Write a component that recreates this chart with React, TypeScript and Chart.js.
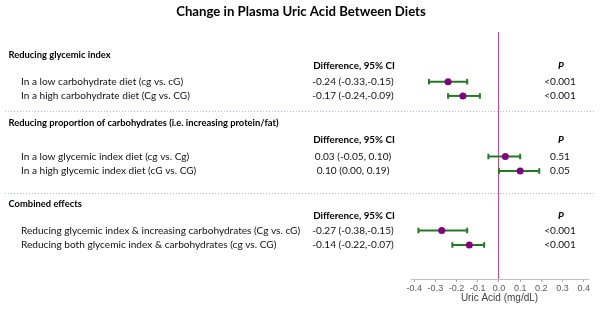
import React, { useEffect, useRef } from "react";
import { Chart, registerables } from "chart.js";

Chart.register(...registerables);

const chartTitle = "Change in Plasma Uric Acid Between Diets";
const sectionTitles = [
  "Reducing glycemic index",
  "Reducing proportion of carbohydrates (i.e. increasing protein/fat)",
  "Combined effects",
];
const sectionTitlePos = [1.58, 6.26, 11.84];
const headerPos = [2.34, 7.4, 12.66];
const separatorPos = [5.44, 11.08];

const rowLabels = [
  "In a low carbohydrate diet (cg vs. cG)",
  "In a high carbohydrate diet (Cg vs. CG)",
  "In a low glycemic index diet (cg vs. Cg)",
  "In a high glycemic index diet (cG vs. CG)",
  "Reducing glycemic index & increasing carbohydrates (Cg vs. cG)",
  "Reducing both glycemic index & carbohydrates (cg vs. CG)",
];
const rowPos = [3.42, 4.4, 8.57, 9.57, 13.66, 14.66];
const diffs = [-0.24, -0.17, 0.03, 0.1, -0.27, -0.14];
const ciLow = [-0.33, -0.24, -0.05, 0.0, -0.38, -0.22];
const ciHigh = [-0.15, -0.09, 0.1, 0.19, -0.15, -0.07];
const pValues = ["<0.001", "<0.001", "0.51", "0.05", "<0.001", "<0.001"];

const diffHeader = "Difference, 95% CI";
const pHeader = "P";
const xAxisTitle = "Uric Acid (mg/dL)";

const fmtDiff = (i: number) =>
  `${diffs[i].toFixed(2)} (${ciLow[i].toFixed(2)},${ciHigh[i] < 0 ? "" : " "}${ciHigh[i].toFixed(2)})`;

const FONT = "Lato, 'Open Sans', sans-serif";

const textPlugin = {
  id: "forestText",
  beforeDraw(chart: any) {
    const { ctx } = chart;
    const y = chart.scales.y;
    ctx.save();
    ctx.strokeStyle = "#9dbfe0";
    ctx.lineWidth = 1;
    ctx.setLineDash([1, 2]);
    separatorPos.forEach((p) => {
      const py = Math.round(y.getPixelForValue(p)) + 0.5;
      ctx.beginPath();
      ctx.moveTo(5, py);
      ctx.lineTo(596, py);
      ctx.stroke();
    });
    ctx.restore();
  },
  afterDraw(chart: any) {
    const { ctx } = chart;
    const y = chart.scales.y;
    ctx.save();
    ctx.fillStyle = "#000";
    ctx.textBaseline = "middle";
    // title
    ctx.textAlign = "center";
    ctx.font = `bold 13.2px ${FONT}`;
    ctx.fillText(chartTitle, 301, 12);
    // section titles
    ctx.textAlign = "left";
    ctx.font = `bold 9.4px ${FONT}`;
    sectionTitles.forEach((t, i) => ctx.fillText(t, 8.5, y.getPixelForValue(sectionTitlePos[i])));
    // headers
    headerPos.forEach((p) => {
      const py = y.getPixelForValue(p);
      ctx.textAlign = "center";
      ctx.font = `bold 9.8px ${FONT}`;
      ctx.fillText(diffHeader, 354, py);
      ctx.font = `italic bold 10px ${FONT}`;
      ctx.fillText(pHeader, 561, py);
    });
    // rows
    ctx.font = `10.1px ${FONT}`;
    ctx.fillStyle = "#111";
    rowLabels.forEach((t, i) => {
      const py = y.getPixelForValue(rowPos[i]);
      ctx.textAlign = "left";
      ctx.fillText(t, 21, py);
      ctx.textAlign = "center";
      ctx.fillText(fmtDiff(i), 353, py);
      ctx.fillText(pValues[i], 560, py);
    });
    ctx.restore();
  },
};

export default function App() {
  const ref = useRef<HTMLCanvasElement>(null);
  useEffect(() => {
    let chart: Chart | null = null;
    let cancelled = false;
    const make = () => {
      if (cancelled || !ref.current) return;
      const ciSets = rowPos.map((p, i) => ({
        type: "line" as const,
        data: [
          { x: ciLow[i], y: p },
          { x: ciHigh[i], y: p },
        ],
        borderColor: "#237a23",
        borderWidth: 2,
        pointStyle: "line" as const,
        rotation: 90,
        pointRadius: 2.8,
        pointBorderColor: "#237a23",
        pointBorderWidth: 2,
        showLine: true,
        order: 2,
      }));
      chart = new Chart(ref.current, {
        type: "scatter",
        data: {
          datasets: [
            {
              data: rowPos.map((p, i) => ({ x: diffs[i], y: p })),
              backgroundColor: "#800080",
              borderColor: "#800080",
              pointRadius: 3.5,
              borderWidth: 0,
              order: 0,
            },
            ...ciSets,
          ] as any,
        },
        options: {
          animation: false,
          responsive: false,
          events: [],
          layout: { padding: { left: 411, right: 14, top: 32, bottom: 0 } },
          plugins: { legend: { display: false }, tooltip: { enabled: false }, title: { display: false } },
          scales: {
            x: {
              type: "linear",
              min: -0.415,
              max: 0.42,
              afterFit: (s: any) => {
                s.height = 31;
              },
              ticks: {
                stepSize: 0.1,
                includeBounds: false,
                color: "#595959",
                font: { family: "'Liberation Sans', Arial, sans-serif", size: 9 },
                padding: 1,
                maxRotation: 0,
                callback: (v: any) => Number(v).toFixed(1),
              },
              grid: {
                color: (c: any) => (c.tick && Math.abs(c.tick.value) < 1e-9 ? "#cc4a80" : "rgba(0,0,0,0)"),
                tickColor: "#a6a6a6",
                tickLength: 3,
                lineWidth: 1,
              },
              border: { display: true, color: "#bfbfbf", width: 1 },
              title: {
                display: true,
                text: xAxisTitle,
                color: "#404040",
                font: { family: "'Liberation Sans', Arial, sans-serif", size: 10 },
                padding: { top: 0, bottom: 6 },
              },
            },
            y: { type: "linear", display: false, reverse: true, min: 0, max: 17 },
          },
        },
        plugins: [textPlugin],
      } as any);
    };
    const fonts: any = (document as any).fonts;
    if (fonts && fonts.load) {
      Promise.all([
        fonts.load(`11px Lato`),
        fonts.load(`bold 11px Lato`),
        fonts.load(`italic bold 11px Lato`),
      ])
        .catch(() => {})
        .then(make);
    } else make();
    return () => {
      cancelled = true;
      if (chart) chart.destroy();
    };
  }, []);
  return (
    <div style={{ position: "absolute", left: 0, top: 0, width: 602, height: 310, background: "#fff" }}>
      <canvas ref={ref} width={602} height={310} style={{ width: 602, height: 310 }} />
    </div>
  );
}
